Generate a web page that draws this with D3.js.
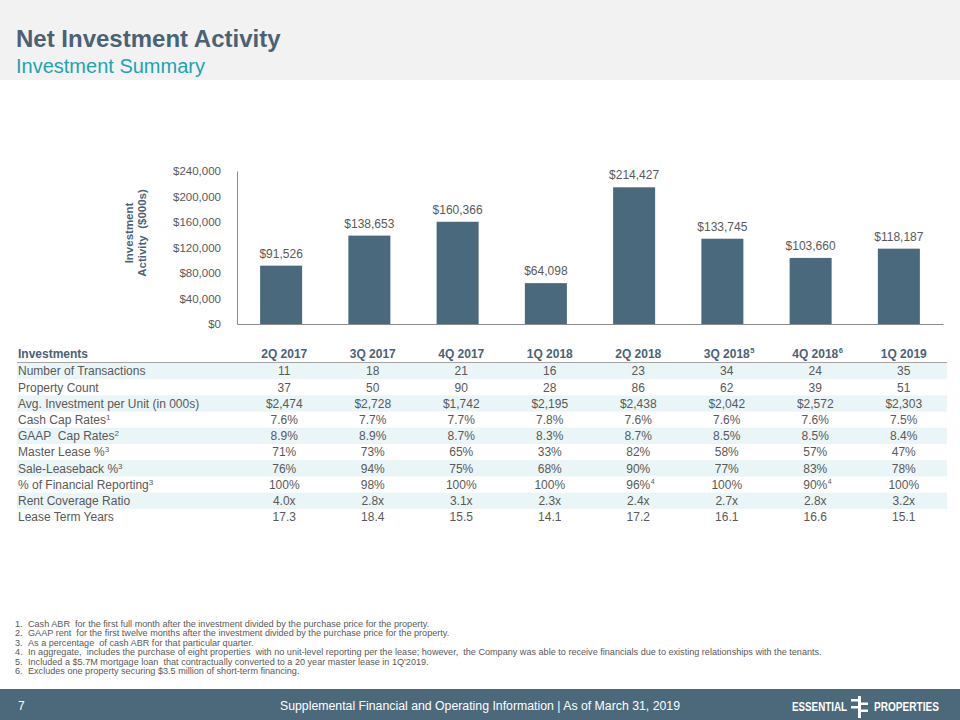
<!DOCTYPE html>
<html>
<head>
<meta charset="utf-8">
<script src="https://cdn.jsdelivr.net/npm/d3@7"></script>
<style>
  html, body { margin: 0; padding: 0; background: #ffffff; }
  svg { display: block; }
  text { font-family: "Liberation Sans", Arial, sans-serif; }
</style>
</head>
<body>
<svg id="chart" width="960" height="720"></svg>
<script>
// ---------------- DATA ----------------
const quarters = ["2Q 2017", "3Q 2017", "4Q 2017", "1Q 2018", "2Q 2018", "3Q 2018", "4Q 2018", "1Q 2019"];
const quarterNotes = ["", "", "", "", "", "5", "6", ""];
const investment = [91526, 138653, 160366, 64098, 214427, 133745, 103660, 118187];
const yTicks = [0, 40000, 80000, 120000, 160000, 200000, 240000];

const rowLabels = ["Number of Transactions", "Property Count", "Avg. Investment per Unit (in 000s)",
  "Cash Cap Rates", "GAAP  Cap Rates", "Master Lease %", "Sale-Leaseback %",
  "% of Financial Reporting", "Rent Coverage Ratio", "Lease Term Years"];
const rowLabelNotes = ["", "", "", "1", "2", "3", "3", "3", "", ""];

const transactions = ["11", "18", "21", "16", "23", "34", "24", "35"];
const propertyCount = ["37", "50", "90", "28", "86", "62", "39", "51"];
const avgInvestment = ["$2,474", "$2,728", "$1,742", "$2,195", "$2,438", "$2,042", "$2,572", "$2,303"];
const cashCapRates = ["7.6%", "7.7%", "7.7%", "7.8%", "7.6%", "7.6%", "7.6%", "7.5%"];
const gaapCapRates = ["8.9%", "8.9%", "8.7%", "8.3%", "8.7%", "8.5%", "8.5%", "8.4%"];
const masterLease = ["71%", "73%", "65%", "33%", "82%", "58%", "57%", "47%"];
const saleLeaseback = ["76%", "94%", "75%", "68%", "90%", "77%", "83%", "78%"];
const finReporting = ["100%", "98%", "100%", "100%", "96%", "100%", "90%", "100%"];
const finReportingNotes = ["", "", "", "", "4", "", "4", ""];
const rentCoverage = ["4.0x", "2.8x", "3.1x", "2.3x", "2.4x", "2.7x", "2.8x", "3.2x"];
const leaseTerm = ["17.3", "18.4", "15.5", "14.1", "17.2", "16.1", "16.6", "15.1"];

const footnotes = [
  "Cash ABR  for the first full month after the investment divided by the purchase price for the property.",
  "GAAP rent  for the first twelve months after the investment divided by the purchase price for the property.",
  "As a percentage  of cash ABR for that particular quarter.",
  "In aggregate,  includes the purchase of eight properties  with no unit-level reporting per the lease; however,  the Company was able to receive financials due to existing relationships with the tenants.",
  "Included a $5.7M mortgage loan  that contractually converted to a 20 year master lease in 1Q'2019.",
  "Excludes one property securing $3.5 million of short-term financing."
];

const pageTitle = "Net Investment Activity";
const pageSubtitle = "Investment Summary";
const yAxisTitle = ["Investment", "Activity  ($000s)"];
const pageNumber = "7";
const footerText = "Supplemental Financial and Operating Information | As of March 31, 2019";

// ---------------- STYLE ----------------
const slate = "#4b697d";
const titleColor = "#4a6276";
const teal = "#1fa3ad";
const gray = "#595959";
const stripe = "#e9f5f6";

const svg = d3.select("#chart");

// header band
svg.append("rect").attr("x", 0).attr("y", 0).attr("width", 960).attr("height", 80).attr("fill", "#f2f2f2");
svg.append("text").attr("x", 16).attr("y", 47).attr("font-size", 24).attr("font-weight", "bold")
  .attr("fill", titleColor).text(pageTitle);
svg.append("text").attr("x", 16).attr("y", 73).attr("font-size", 20)
  .attr("fill", teal).text(pageSubtitle);

// ---------------- BAR CHART ----------------
const x = d3.scaleBand().domain(quarters).range([237, 943]).paddingInner(0.524).paddingOuter(0.262);
const y = d3.scaleLinear().domain([0, 240000]).range([324, 171]);

const yAxis = d3.axisLeft(y).tickValues(yTicks).tickSize(0).tickPadding(16)
  .tickFormat(d3.format("$,"));
const gy = svg.append("g").attr("transform", "translate(237,0)").call(yAxis);
gy.select(".domain").attr("stroke", "#8c8c8c");
gy.selectAll(".tick text").attr("font-size", 11.5).attr("fill", gray)
  .attr("font-family", "\"Liberation Sans\", Arial, sans-serif");

const xAxis = d3.axisBottom(x).tickSize(0).tickFormat("");
const gx = svg.append("g").attr("transform", "translate(0,324)").call(xAxis);
gx.select(".domain").attr("stroke", "#8c8c8c");

svg.append("g").selectAll("rect").data(investment).join("rect")
  .attr("x", (d, i) => x(quarters[i]))
  .attr("y", d => y(d))
  .attr("width", x.bandwidth())
  .attr("height", d => y(0) - y(d))
  .attr("fill", slate);

svg.append("g").selectAll("text").data(investment).join("text")
  .attr("x", (d, i) => x(quarters[i]) + x.bandwidth() / 2)
  .attr("y", d => y(d) - 8)
  .attr("text-anchor", "middle").attr("font-size", 12).attr("fill", gray)
  .text(d => d3.format("$,")(d));

const yt = svg.append("text").attr("transform", "translate(135,233) rotate(-90)")
  .attr("text-anchor", "middle").attr("font-size", 11.5).attr("font-weight", "bold").attr("fill", titleColor)
  .attr("xml:space", "preserve").style("white-space", "pre");
yt.append("tspan").attr("x", 0).attr("dy", "-0.2em").text(yAxisTitle[0]);
yt.append("tspan").attr("x", 0).attr("dy", "1.15em").text(yAxisTitle[1]);

// ---------------- TABLE ----------------
const rows = [transactions, propertyCount, avgInvestment, cashCapRates, gaapCapRates,
  masterLease, saleLeaseback, finReporting, rentCoverage, leaseTerm];
const rowNotes = [null, null, null, null, null, null, null, finReportingNotes, null, null];

const col = d3.scaleBand().domain(quarters).range([240, 948]);
const rowY = d3.scaleBand().domain(d3.range(rows.length)).range([363, 525]);
const cx = q => col(q) + col.bandwidth() / 2;

const table = svg.append("g");
table.selectAll("rect.stripe").data(d3.range(rows.length).filter(i => i % 2 === 0)).join("rect")
  .attr("class", "stripe")
  .attr("x", 17).attr("width", 930)
  .attr("y", i => rowY(i)).attr("height", rowY.bandwidth())
  .attr("fill", stripe);

table.append("line").attr("x1", 17).attr("x2", 947).attr("y1", 362.5).attr("y2", 362.5)
  .attr("stroke", "#a6a6a6").attr("stroke-width", 1);

table.append("text").attr("x", 18).attr("y", 358).attr("font-size", 12).attr("font-weight", "bold")
  .attr("fill", titleColor).text("Investments");

quarters.forEach((q, i) => {
  const t = table.append("text").attr("x", cx(q)).attr("y", 358).attr("text-anchor", "middle")
    .attr("font-size", 12).attr("font-weight", "bold").attr("fill", titleColor).text(q);
  if (quarterNotes[i]) {
    const w = t.node().getComputedTextLength();
    table.append("text").attr("x", cx(q) + w / 2 + 0.5).attr("y", 353)
      .attr("font-size", 7.5).attr("font-weight", "bold").attr("fill", titleColor).text(quarterNotes[i]);
  }
});

const lbl = table.selectAll("text.lbl").data(rowLabels).join("text")
  .attr("class", "lbl")
  .attr("x", 18).attr("y", (d, i) => rowY(i) + 12.3)
  .attr("font-size", 12).attr("fill", gray)
  .attr("xml:space", "preserve").style("white-space", "pre");
lbl.append("tspan").text(d => d);
lbl.append("tspan").attr("font-size", 8).attr("dy", -4).text((d, i) => rowLabelNotes[i]);

rows.forEach((vals, r) => {
  vals.forEach((v, i) => {
    const t = table.append("text").attr("x", cx(quarters[i])).attr("y", rowY(r) + 12.3)
      .attr("text-anchor", "middle").attr("font-size", 12).attr("fill", gray).text(v);
    if (rowNotes[r] && rowNotes[r][i]) {
      const w = t.node().getComputedTextLength();
      table.append("text").attr("x", cx(quarters[i]) + w / 2 + 0.5).attr("y", rowY(r) + 7.5)
        .attr("font-size", 7).attr("fill", gray).text(rowNotes[r][i]);
    }
  });
});

// ---------------- FOOTNOTES ----------------
const fn = svg.append("g");
footnotes.forEach((t, i) => {
  const yy = 626.5 + i * 9.55;
  fn.append("text").attr("x", 15).attr("y", yy).attr("font-size", 9.1).attr("fill", gray).text((i + 1) + ".");
  fn.append("text").attr("x", 28).attr("y", yy).attr("font-size", 9.1).attr("fill", gray)
    .attr("xml:space", "preserve").style("white-space", "pre").text(t);
});

// ---------------- FOOTER ----------------
svg.append("rect").attr("x", 0).attr("y", 689).attr("width", 960).attr("height", 31).attr("fill", "#4b697b");
svg.append("text").attr("x", 18).attr("y", 710).attr("font-size", 12).attr("fill", "#ffffff").text(pageNumber);
svg.append("text").attr("x", 280).attr("y", 710).attr("font-size", 12.5).attr("fill", "#ffffff")
  .attr("font-family", "\"Liberation Sans Narrow\", \"Liberation Sans\", Arial, sans-serif")
  .attr("textLength", 400).attr("lengthAdjust", "spacingAndGlyphs").text(footerText);

// logo
const logo = svg.append("g").attr("fill", "#ffffff");
logo.append("text").attr("x", 792).attr("y", 711).attr("font-size", 13).attr("font-weight", "bold")
  .attr("font-family", "\"Liberation Sans Narrow\", \"Liberation Sans\", Arial, sans-serif")
  .attr("textLength", 55).attr("lengthAdjust", "spacingAndGlyphs").text("ESSENTIAL");
logo.append("rect").attr("x", 858).attr("y", 696).attr("width", 3).attr("height", 22);
logo.append("rect").attr("x", 851).attr("y", 699).attr("width", 9).attr("height", 2.5);
logo.append("rect").attr("x", 859).attr("y", 702.5).attr("width", 9).attr("height", 2.5);
logo.append("rect").attr("x", 851).attr("y", 706).attr("width", 9).attr("height", 2.5);
logo.append("rect").attr("x", 859).attr("y", 709.5).attr("width", 9).attr("height", 2.5);
logo.append("text").attr("x", 874).attr("y", 711).attr("font-size", 13).attr("font-weight", "bold")
  .attr("font-family", "\"Liberation Sans Narrow\", \"Liberation Sans\", Arial, sans-serif")
  .attr("textLength", 65).attr("lengthAdjust", "spacingAndGlyphs").text("PROPERTIES");
</script>
</body>
</html>
